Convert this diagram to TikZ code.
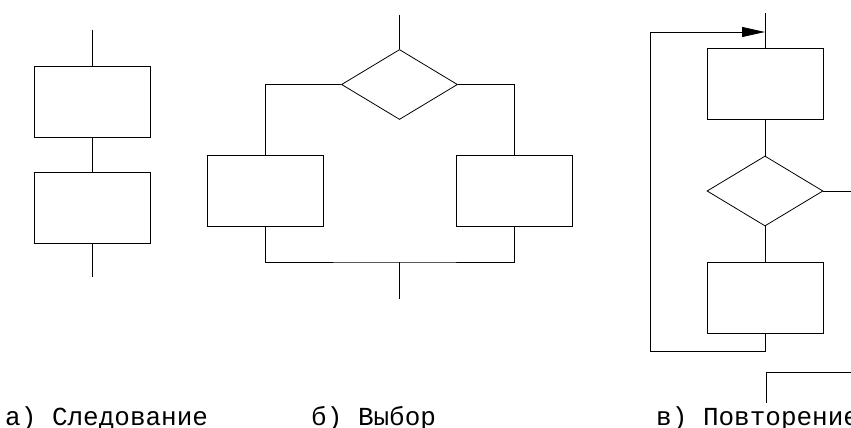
\documentclass[tikz,border=0pt]{standalone}
\usepackage{fontspec}
\setmonofont{Liberation Mono}
\usetikzlibrary{shapes.geometric, arrows.meta, positioning, calc}

\begin{document}
\begin{tikzpicture}[
        x=1pt, y=-1pt,
        block/.style={rectangle, draw=black, line width=0.8pt, inner sep=0pt, minimum width=116pt, minimum height=71pt},
        cond/.style={diamond, draw=black, line width=0.8pt, inner sep=0pt, aspect=1.65, minimum width=116pt, minimum height=70pt},
        line/.style={draw=black, line width=0.8pt},
        back/.style={line, -{Triangle[length=23pt, width=10pt]}},
        caption/.style={anchor=base west, inner sep=0pt, font=\ttfamily\fontsize{26}{26}\selectfont}
    ]
        \useasboundingbox (0,0) rectangle (851,428);

        % а) Следование
        \coordinate (atop) at (92,30);
        \node[block] (a1) at (92,101.5) {};
        \node[block] (a2) at (92,208) {};
        \coordinate (abot) at (92,277);
        \draw[line] (atop) -- (a1.north);
        \draw[line] (a1.south) -- (a2.north);
        \draw[line] (a2.south) -- (abot);

        % б) Выбор
        \coordinate (btop) at (399.5,15);
        \node[cond] (bd) at (399.5,84.5) {};
        \node[block] (bl) at (265,191) {};
        \node[block] (br) at (514.5,191) {};
        \coordinate (bj) at (399.5,262);
        \coordinate (bbot) at (399.5,299);
        \draw[line] (btop) -- (bd.north);
        \draw[line] (bd.west) -| (bl.north);
        \draw[line] (bd.east) -| (br.north);
        \draw[line] (bl.south) |- (bj) -| (br.south);
        \draw[line] (bj) -- (bbot);

        % в) Повторение
        \coordinate (ctop) at (765,13);
        \coordinate (cin) at (765,32);
        \node[block] (c1) at (765,84) {};
        \node[cond] (cd) at (765,191) {};
        \node[block] (c2) at (765,297.5) {};
        \coordinate (cloop) at (650,351.5);
        \coordinate (cout) at (851,191);
        \coordinate (cnext) at (851,372);
        \coordinate (cend) at (766,403);
        \draw[line] (ctop) -- (c1.north);
        \draw[line] (c1.south) -- (cd.north);
        \draw[line] (cd.south) -- (c2.north);
        \draw[line] (cd.east) -- (cout);
        \draw[back] (c2.south) |- (cloop) |- (cin);
        \draw[line] (cnext) -| (cend);

        % подписи
        \node[caption] (la) at (5,425) {а) Следование};
        \node[caption] (lb) at (311,425) {б) Выбор};
        \node[caption] (lc) at (656,425) {в) Повторение};
    \end{tikzpicture}
\end{document}
